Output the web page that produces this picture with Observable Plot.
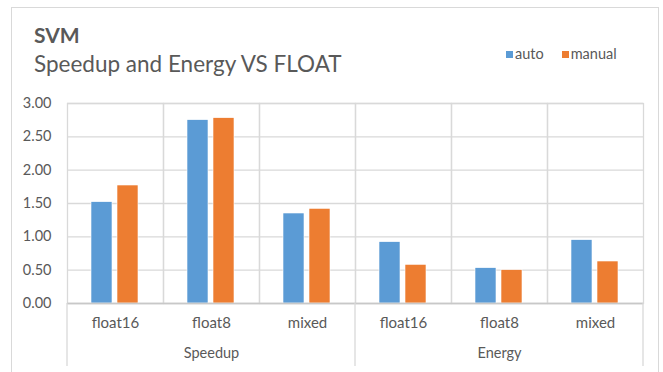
<!DOCTYPE html>
<html>
<head>
<meta charset="utf-8">
<script src="https://cdn.jsdelivr.net/npm/d3@7"></script>
<script src="https://cdn.jsdelivr.net/npm/@observablehq/plot@0.6"></script>
<style>
  html, body { margin: 0; padding: 0; background: #fff; }
  #wrap { position: relative; width: 663px; height: 372px; overflow: hidden; font-family: Lato, "Open Sans", sans-serif; color: #595959; }
  #border { position: absolute; left: 11px; top: 7px; width: 648px; height: 380px; border: 1px solid #d9d9d9; box-sizing: border-box; }
  #title { position: absolute; left: 34px; top: 24px; font-size: 21px; font-weight: bold; line-height: 1; white-space: nowrap; }
  #subtitle { position: absolute; left: 34px; top: 53px; font-size: 22.5px; line-height: 1; white-space: nowrap; }
  #legend { position: absolute; left: 506px; top: 47px; font-size: 14.5px; line-height: 1; white-space: nowrap; display: flex; align-items: center; }
  #legend .item { display: flex; align-items: center; }
  #legend .sw { width: 7px; height: 7px; margin-right: 2px; }
  #chart { position: absolute; left: 0; top: 90px; }
</style>
</head>
<body>
<div id="wrap">
  <div id="border"></div>
  <div id="title">SVM</div>
  <div id="subtitle">Speedup and Energy VS FLOAT</div>
  <div id="legend"></div>
  <div id="chart"></div>
</div>
<script>
const groupNames = ["Speedup", "Energy"];
const groups = ["Speedup", "Speedup", "Speedup", "Energy", "Energy", "Energy"];
const categories = ["float16", "float8", "mixed", "float16", "float8", "mixed"];
const series = ["auto", "manual"];
const autoValues = [1.52, 2.75, 1.35, 0.92, 0.53, 0.95];
const manualValues = [1.77, 2.78, 1.42, 0.58, 0.50, 0.63];
const yTicks = [0, 0.5, 1, 1.5, 2, 2.5, 3];
const colors = ["#5B9BD5", "#ED7D31"];

const keys = categories.map((c, i) => groups[i] + "|" + c);
const data = [];
keys.forEach((k, i) => {
  data.push({key: k, series: "auto", value: autoValues[i]});
  data.push({key: k, series: "manual", value: manualValues[i]});
});
// group label sits under the middle category of each group
const groupLabels = groupNames.map(g => {
  const ks = keys.filter((k, i) => groups[i] === g);
  return {key: ks[Math.floor(ks.length / 2)], label: g};
});

// legend
const legend = document.getElementById("legend");
series.forEach((s, i) => {
  const item = document.createElement("div");
  item.className = "item";
  item.style.marginRight = i === 0 ? "18px" : "0";
  const sw = document.createElement("div");
  sw.className = "sw";
  sw.style.background = colors[i];
  const t = document.createElement("span");
  t.textContent = s;
  item.appendChild(sw);
  item.appendChild(t);
  legend.appendChild(item);
});

const grid = "#d9d9d9";
const plot = Plot.plot({
  width: 663,
  height: 282,
  marginTop: 13,
  marginLeft: 66,
  marginRight: 20,
  marginBottom: 69,
  style: {fontFamily: "Lato, 'Open Sans', sans-serif", fontSize: "14px", color: "#595959", background: "transparent"},
  fx: {domain: keys, padding: 0, label: null},
  x: {domain: series, paddingInner: 0.185, paddingOuter: 0.873, axis: null},
  y: {domain: [0, 3], label: null},
  color: {domain: series, range: colors},
  marks: [
    Plot.gridY(yTicks, {stroke: grid, strokeOpacity: 1, strokeWidth: 1.3}),
    Plot.frame({stroke: grid, strokeWidth: 1.3}),
    Plot.barY(data, {fx: "key", x: "series", y: "value", fill: "series", stroke: "#fff", strokeWidth: 0.6}),
    Plot.ruleY([0], {stroke: "#c8c8c8", strokeWidth: 1.5}),
    Plot.axisY(yTicks, {tickFormat: d3.format(".2f"), tickSize: 0, tickPadding: 16, fill: "#595959", fontSize: 14.5, label: null}),
    Plot.axisFx({anchor: "bottom", tickFormat: k => k.split("|")[1], tickSize: 0, tickPadding: 14, fill: "#595959", fontSize: 15, label: null}),
    Plot.text(groupLabels, {fx: "key", text: "label", frameAnchor: "bottom", dy: 54, fill: "#595959", fontSize: 14.5})
  ]
});
document.getElementById("chart").appendChild(plot);

// group dividers below the axis, positioned from the fx scale
const fx = plot.scale("fx");
const yScale = plot.scale("y");
const svg = d3.select(plot);
const bw = fx.bandwidth;
const edges = [];
groupNames.forEach(g => {
  const ks = keys.filter((k, i) => groups[i] === g);
  edges.push(fx.apply(ks[0]));
});
edges.push(fx.apply(keys[keys.length - 1]) + bw);
const y0 = yScale.apply(0);
svg.append("g").selectAll("line").data(edges).join("line")
  .attr("x1", d => d).attr("x2", d => d)
  .attr("y1", y0).attr("y2", y0 + 63)
  .attr("stroke", grid).attr("stroke-width", 1.3);
</script>
</body>
</html>
